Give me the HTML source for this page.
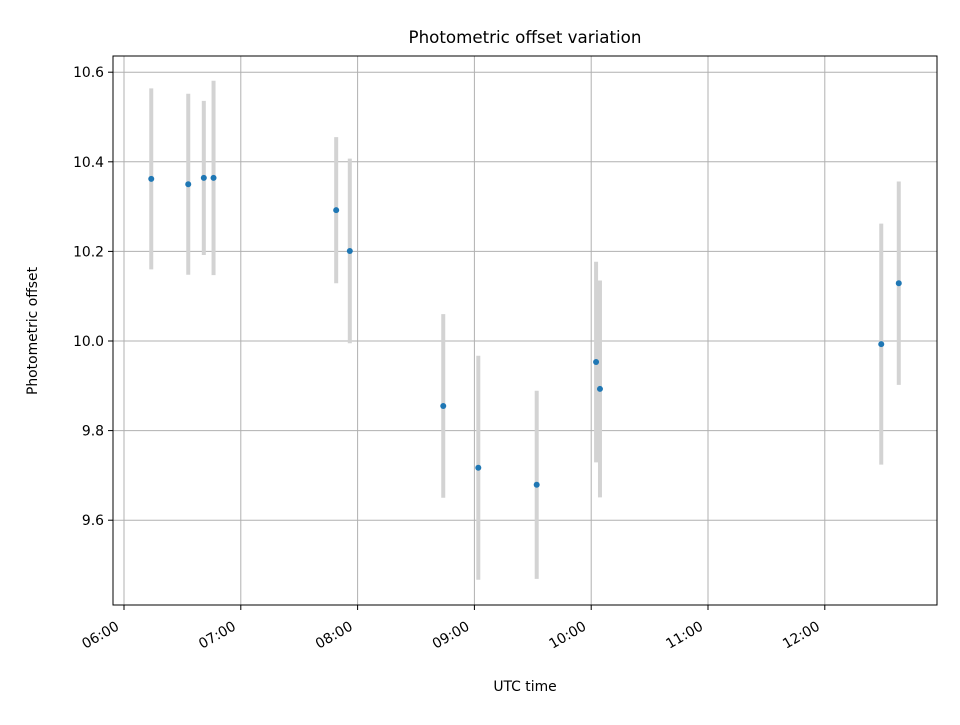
<!DOCTYPE html>
<html><head><meta charset="utf-8"><style>
body{margin:0;background:#fff}
svg{font-family:"DejaVu Sans","Liberation Sans",sans-serif}
</style></head><body>
<svg id="chart" width="960" height="720" xmlns="http://www.w3.org/2000/svg">
<rect width="960" height="720" fill="#fff"/>
<g id="grid"></g>
<g id="errs"></g>
<g id="pts"></g>
<rect x="113" y="56" width="824" height="549" fill="none" stroke="#000" stroke-width="1"/>
<g id="ticks"></g>
<text x="525" y="43" text-anchor="middle" font-size="16.7">Photometric offset variation</text>
<text x="525" y="691" text-anchor="middle" font-size="13.9">UTC time</text>
<text transform="translate(37,331) rotate(-90)" text-anchor="middle" font-size="13.9">Photometric offset</text>
</svg>
<script>
const times = ["06:14","06:33","06:41","06:46","07:49","07:56","08:44","09:02","09:32","10:02.5","10:04.5","12:29","12:38"];
const offsets = [10.362,10.350,10.364,10.364,10.292,10.201,9.855,9.717,9.679,9.953,9.893,9.993,10.129];
const errors = [0.202,0.202,0.172,0.217,0.163,0.206,0.205,0.25,0.21,0.224,0.242,0.269,0.227];
const xTickLabels = ["06:00","07:00","08:00","09:00","10:00","11:00","12:00"];
const yTickValues = [9.6,9.8,10.0,10.2,10.4,10.6];

const NS="http://www.w3.org/2000/svg";
function mins(t){const p=t.split(":");return (+p[0])*60+parseFloat(p[1]);}
function xs(m){return 124+(m-360)*116.8/60;}
function ys(v){return 341-(v-10)*448;}
function mk(tag,attrs,parent){const e=document.createElementNS(NS,tag);for(const k in attrs)e.setAttribute(k,attrs[k]);parent.appendChild(e);return e;}
const grid=document.getElementById('grid'),ticks=document.getElementById('ticks'),errs=document.getElementById('errs'),pts=document.getElementById('pts');
xTickLabels.forEach(l=>{
  const x=xs(mins(l));
  const g=mk('line',{x1:x,x2:x,y1:56,y2:605,stroke:'#b0b0b0','stroke-width':1},grid);
  
  
  const t=mk('line',{x1:x,x2:x,y1:605,y2:610,stroke:'#000'},ticks);
  
  
  const tx=mk('text',{transform:`translate(${x-4},${629}) rotate(-30)`,'text-anchor':'end','font-size':13.9},ticks);
  tx.textContent=l;
  
  
});
yTickValues.forEach(v=>{
  const y=ys(v);
  const g=mk('line',{x1:113,x2:937,y1:y,y2:y,stroke:'#b0b0b0','stroke-width':1},grid);
  
  
  const t=mk('line',{x1:108,x2:113,y1:y,y2:y,stroke:'#000'},ticks);
  
  
  const tx=mk('text',{x:104,y:y+5,'text-anchor':'end','font-size':13.9},ticks);
  tx.textContent=v.toFixed(1);
  
  
});
times.forEach((t,i)=>{
  const x=xs(mins(t));
  const e=mk('line',{x1:x,x2:x,y1:ys(offsets[i]+errors[i]),y2:ys(offsets[i]-errors[i]),stroke:'#d3d3d3','stroke-width':4},errs);
  
  
  const c=mk('circle',{cx:x,cy:ys(offsets[i]),r:3,fill:'#1f77b4'},pts);
  
  
});
</script>
</body></html>
